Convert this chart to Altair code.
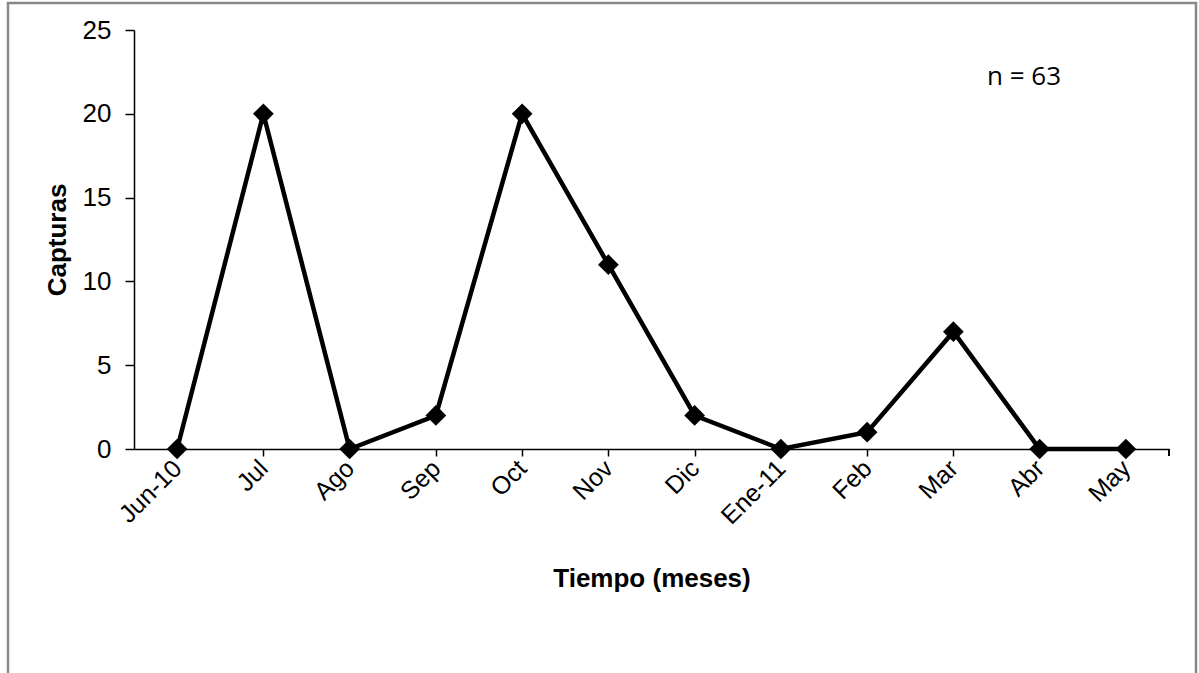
import altair as alt
import pandas as pd

months = ["Jun-10", "Jul", "Ago", "Sep", "Oct", "Nov", "Dic", "Ene-11", "Feb", "Mar", "Abr", "May"]
capturas = [0, 20, 0, 2, 20, 11, 2, 0, 1, 7, 0, 0]
y_ticks = [0, 5, 10, 15, 20, 25]
annotation = "n = 63"

df = pd.DataFrame({"mes": months, "capturas": capturas})

W, H = 1035, 419
FONT = "Liberation Sans"

x_enc = alt.X("mes:N", sort=months, scale=alt.Scale(paddingInner=0, paddingOuter=0),
              axis=alt.Axis(title="Tiempo (meses)", labelAngle=-45, labelFontSize=25,
                            labelAlign="right", labelBaseline="middle",
                            labelFont=FONT, labelColor="black", titleFont=FONT,
                            titleFontSize=26, titleFontWeight="bold", titleColor="black",
                            domainColor="black", tickColor="black", tickSize=7,
                            domainWidth=1.5, tickWidth=1.5, labelPadding=8,
                            titlePadding=37, grid=False))
y_enc = alt.Y("capturas:Q", scale=alt.Scale(domain=[0, 25], nice=False),
              axis=alt.Axis(title="Capturas", values=y_ticks, labelFontSize=26,
                            labelFont=FONT, labelColor="black", titleFont=FONT,
                            titleFontSize=26, titleFontWeight="bold", titleColor="black",
                            domainColor="black", tickColor="black", tickSize=9,
                            domainWidth=1.5, tickWidth=1.5, labelPadding=14,
                            titlePadding=12, grid=False))

base = alt.Chart(df)
line = base.mark_line(color="black", strokeWidth=4.5).encode(x=x_enc, y=y_enc)
points = base.mark_point(shape="diamond", filled=True, color="black", size=430, opacity=1).encode(
    x=alt.X("mes:N", sort=months), y="capturas:Q")

end_tick = alt.Chart(df).mark_rule(color="black", strokeWidth=1.5).encode(
    x=alt.value(W), y=alt.value(H), y2=alt.value(H + 7))

note = alt.Chart(pd.DataFrame({"t": [annotation]})).mark_text(
    font="Open Sans", fontSize=26, color="black", align="left", baseline="middle").encode(
    text="t:N", x=alt.value(853), y=alt.value(47))

frame = alt.Chart(pd.DataFrame({"a": [0]})).mark_rect(
    fill=None, stroke="#888888", strokeWidth=2.5, clip=False).encode(
    x=alt.value(-126), x2=alt.value(1062), y=alt.value(-27), y2=alt.value(720))

chart = alt.layer(frame, line, points, end_tick, note).properties(
    width=W, height=H,
    background="white",
    padding={"left": 134, "top": 30, "right": 30, "bottom": 224},
    autosize=alt.AutoSizeParams(type="none"),
).configure_view(strokeWidth=0, stroke="transparent")

chart.save("out.html", embed_options={"renderer": "svg", "actions": False})
